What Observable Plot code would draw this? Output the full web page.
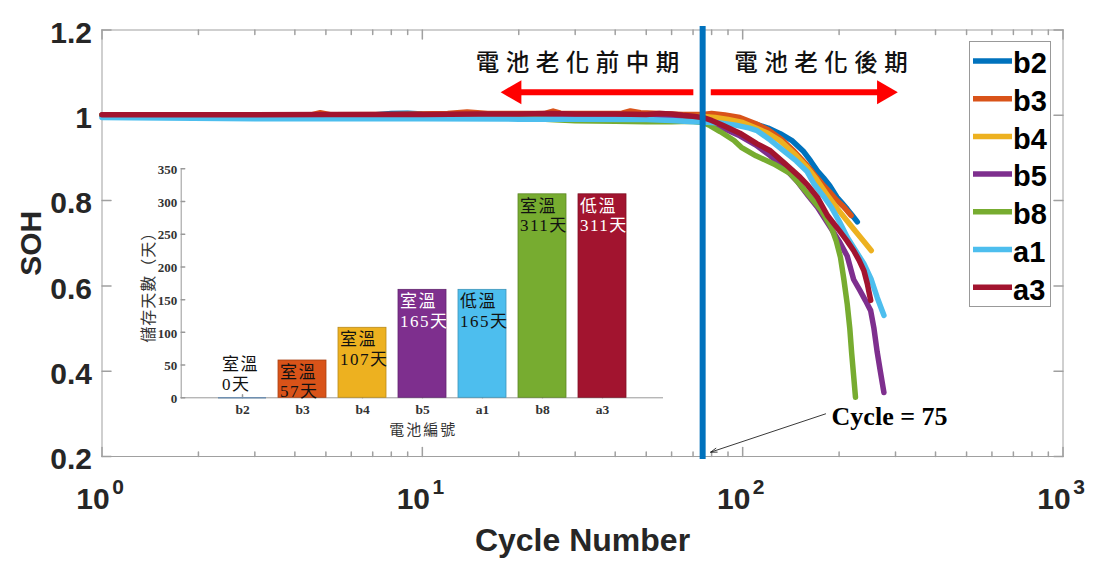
<!DOCTYPE html>
<html><head><meta charset="utf-8">
<script src="https://cdn.jsdelivr.net/npm/d3@7"></script>
<script src="https://cdn.jsdelivr.net/npm/@observablehq/plot@0.6"></script>
<style>
body{margin:0;background:#fff;width:1096px;height:563px;overflow:hidden;position:relative;font-family:"Liberation Sans",Arial,sans-serif}
#main,#inset{position:absolute;left:0;top:0}
#legend{position:absolute;left:969px;top:41px;width:82px;height:266px;border:1px solid #999;background:#fff;box-sizing:border-box}
</style></head><body>
<div id="main"></div><div id="inset"></div><div id="legend"></div>
<script>
// ---------- data ----------
const seriesNames = ["b2","b3","b4","b5","b8","a1","a3"];
const seriesColors = ["#0072BD","#D95319","#EDB120","#7E2F8E","#77AC30","#4DBEEE","#A2142F"];

const cyclesB2 = [1,3,5,7,8,9,10,12,15,20,30,40,50,60,70,75,82,90,100,111,120,131,143,155,163,171,179,187,197,205,212,220,228];
const sohB2    = [1.000,1.000,1.000,1.001,1.004,1.005,1.003,1.001,1.001,1.001,1.000,1.000,0.999,0.998,0.997,0.996,0.994,0.991,0.986,0.978,0.970,0.957,0.940,0.915,0.893,0.870,0.853,0.835,0.808,0.793,0.780,0.765,0.750];

const cyclesB3 = [1,3,4.5,4.8,5.2,8,12,13.8,16,20,24,25.6,27,35,42,44.6,48,55,65,75,80,88,98,110,120,132,145,158,170,179,188,197,207,218];
const sohB3    = [1.000,1.000,1.001,1.006,1.001,1.002,1.004,1.008,1.004,1.004,1.004,1.010,1.005,1.004,1.005,1.010,1.006,1.004,1.002,1.002,1.004,1.001,0.995,0.980,0.966,0.944,0.915,0.885,0.855,0.835,0.818,0.800,0.785,0.765];

const cyclesB4 = [1,5,10,20,30,50,60,70,75,82,90,100,110,120,131,145,159,170,184,198,212,225,238,252];
const sohB4    = [1.000,1.000,1.000,0.999,0.998,0.996,0.996,0.997,0.997,0.995,0.990,0.983,0.970,0.958,0.940,0.910,0.878,0.850,0.812,0.780,0.752,0.728,0.706,0.683];

const cyclesB5 = [1,5,10,20,30,50,60,70,75,80,88,98,110,122,135,148,160,171,185,200,212,222,232,242,251,257,263,269,276];
const sohB5    = [1.000,0.998,0.997,0.995,0.994,0.993,0.993,0.992,0.990,0.983,0.968,0.952,0.930,0.905,0.877,0.845,0.812,0.785,0.745,0.705,0.670,0.615,0.590,0.565,0.542,0.500,0.445,0.400,0.350];

const cyclesB8 = [1,5,10,20,25,30,40,50,60,69,75,79,85,94,99,110,125,141,150,160,175,189,196,202,207,212,216,219,222,225];
const sohB8    = [1.000,0.998,0.997,0.994,0.990,0.987,0.986,0.985,0.985,0.986,0.983,0.976,0.962,0.941,0.925,0.905,0.886,0.863,0.840,0.815,0.780,0.738,0.705,0.667,0.615,0.558,0.500,0.441,0.390,0.339];

const cyclesA1 = [1,3,10,20,30,50,60,70,75,85,95,105,111,122,134,147,159,167,178,189,200,212,225,239,252,263,270,276];
const sohA1    = [0.995,0.992,0.992,0.991,0.991,0.990,0.988,0.985,0.984,0.982,0.977,0.970,0.964,0.942,0.917,0.893,0.868,0.839,0.812,0.785,0.752,0.714,0.683,0.652,0.615,0.573,0.550,0.531];

const cyclesA3 = [1,3,5,10,15,20,25,30,40,50,55,60,65,70,75,80,87,98,111,122,135,151,160,171,184,202,212,222,231,239,245,251];
const sohA3    = [1.001,1.001,1.002,1.002,1.003,1.003,1.004,1.003,1.003,1.002,1.004,1.003,1.000,0.998,0.995,0.988,0.976,0.958,0.933,0.917,0.888,0.855,0.835,0.808,0.765,0.726,0.705,0.683,0.660,0.636,0.605,0.566];

const seriesCycles = [cyclesB2,cyclesB3,cyclesB4,cyclesB5,cyclesB8,cyclesA1,cyclesA3];
const seriesSoh    = [sohB2,sohB3,sohB4,sohB5,sohB8,sohA1,sohA3];

const xMajorTicks = [1,10,100,1000];
const xExponents  = [0,1,2,3];
const yTicks = [0.2,0.4,0.6,0.8,1,1.2];

const markCycle = 75;
const phaseLabels = [
  {label:"電池老化前中期", cycle:31.2, soh:1.121},
  {label:"電池老化後期",   cycle:179.9, soh:1.121}
];
const redArrows = [
  {dir:"left",  from:70.4, shaftEnd:19.54, tip:17.55, y:1.054},
  {dir:"right", from:79.8, shaftEnd:273.4, tip:305.2, y:1.054}
];
const cycleNote = [{text:"Cycle = 75", cycle:189.5, soh:0.275}];
const cycleArrow = [{x1:181.5, y1:0.300, x2:79.4, y2:0.2101}];

// inset bar chart data
const insetCats  = ["b2","b3","b4","b5","a1","b8","a3"];
const insetDays  = [0,57,107,165,165,311,311];
const insetTemp  = ["室溫","室溫","室溫","室溫","低溫","室溫","低溫"];
const insetColors = ["#0072BD","#D95319","#EDB120","#7E2F8E","#4DBEEE","#77AC30","#A2142F"];
const insetTextColors = ["#111","#111","#111","#ffffff","#111","#111","#ffffff"];
const insetYTicks = [0,50,100,150,200,250,300,350];
const insetXTitle = "電池編號";
const insetYTitle = "儲存天數（天）";

// ---------- build ----------
const rows = seriesNames.flatMap((n,i) => seriesCycles[i].map((c,j) => ({battery:n, cycle:c, soh:seriesSoh[i][j]})));
const minorX = [1,10,100].flatMap(d => [2,3,4,5,6,7,8,9].map(k => k*d));
const tickShape = {draw(ctx, l){ ctx.moveTo(0,0); ctx.lineTo(0,-l); }};
const ax = "#a0a0a0";
const lab = "#262626";

const main = Plot.plot({
  width:1096, height:563,
  marginLeft:101.5, marginRight:33.5, marginTop:29.5, marginBottom:107,
  x:{type:"log", domain:[1,1000], axis:null},
  y:{domain:[0.2,1.2], axis:null},
  color:{domain:seriesNames, range:seriesColors},
  style:{fontFamily:"'Liberation Sans', Arial, sans-serif", background:"transparent", overflow:"visible"},
  marks:[
    Plot.frame({stroke:ax}),
    Plot.vector(xMajorTicks, {x:d=>d, frameAnchor:"bottom", length:9, anchor:"start", shape:tickShape, stroke:ax}),
    Plot.vector(xMajorTicks, {x:d=>d, frameAnchor:"top", rotate:180, length:9, anchor:"start", shape:tickShape, stroke:ax}),
    Plot.vector(minorX, {x:d=>d, frameAnchor:"bottom", length:4.5, anchor:"start", shape:tickShape, stroke:ax}),
    Plot.vector(minorX, {x:d=>d, frameAnchor:"top", rotate:180, length:4.5, anchor:"start", shape:tickShape, stroke:ax}),
    Plot.vector(yTicks, {y:d=>d, frameAnchor:"left", rotate:90, length:9, anchor:"start", shape:tickShape, stroke:ax}),
    Plot.vector(yTicks, {y:d=>d, frameAnchor:"right", rotate:-90, length:9, anchor:"start", shape:tickShape, stroke:ax}),
    Plot.line(rows, {x:"cycle", y:"soh", z:"battery", stroke:"battery", strokeWidth:5.5, strokeLinejoin:"round"}),
    Plot.ruleX([markCycle], {stroke:"#0072BD", strokeWidth:6, insetTop:-3.5, insetBottom:-3}),
    Plot.ruleY(redArrows, {y:"y", x1:"from", x2:"shaftEnd", stroke:"#ff0000", strokeWidth:6}),
    Plot.dot(redArrows.filter(d=>d.dir==="left"), {x:"tip", y:"y", symbol:"triangle", r:8.9, fill:"#ff0000", stroke:"none", rotate:-90, dx:13.9}),
    Plot.dot(redArrows.filter(d=>d.dir==="right"), {x:"tip", y:"y", symbol:"triangle", r:8.9, fill:"#ff0000", stroke:"none", rotate:90, dx:-13.9}),
    Plot.text(phaseLabels, {x:"cycle", y:"soh", text:"label", fontSize:23.5, fontWeight:500, fontFamily:"'Noto Sans CJK TC', sans-serif", fill:"#111"}),
    Plot.arrow(cycleArrow, {x1:"x1", y1:"y1", x2:"x2", y2:"y2", stroke:"#222", strokeWidth:0.9, headLength:11, headAngle:36}),
    Plot.text(cycleNote, {x:"cycle", y:"soh", text:"text", textAnchor:"start", lineAnchor:"bottom", fontSize:26, fontWeight:"bold", fontFamily:"'Liberation Serif', 'Times New Roman', serif", fill:"#000"}),
    // axis labels
    Plot.text(yTicks, {y:d=>d, frameAnchor:"left", dx:-10, dy:3, textAnchor:"end", lineAnchor:"middle", text:d=>String(d), fontSize:30, fontWeight:"bold", fill:lab}),
    Plot.text(xMajorTicks, {x:d=>d, frameAnchor:"bottom", text:()=>"10", textAnchor:"middle", lineAnchor:"bottom", dx:-9, dy:52, fontSize:30, fontWeight:"bold", fill:lab}),
    Plot.text(xExponents, {x:d=>10**d, frameAnchor:"bottom", text:d=>String(d), textAnchor:"middle", lineAnchor:"bottom", dx:16, dy:37.5, fontSize:21, fontWeight:"bold", fill:lab}),
    Plot.text(["Cycle Number"], {frameAnchor:"bottom", text:d=>d, textAnchor:"middle", lineAnchor:"bottom", dy:94, fontSize:32, fontWeight:"bold", fill:lab}),
    Plot.text(["SOH"], {frameAnchor:"left", text:d=>d, rotate:-90, textAnchor:"middle", lineAnchor:"middle", dx:-71, fontSize:30, fontWeight:"bold", fill:lab})
  ]
});
main.querySelectorAll("text").forEach(t => { if (/電池老化/.test(t.textContent)) t.style.letterSpacing = "6.5px"; });
document.getElementById("main").appendChild(main);

// inset
const insetData = insetCats.map((c,i) => ({cat:c, days:insetDays[i], temp:insetTemp[i], color:insetColors[i],
  edge:d3.color(insetColors[i]).darker(0.7).formatHex(), textColor:insetTextColors[i]}));
const cjk = "'Liberation Serif', 'Noto Sans CJK TC', serif";
const inset = Plot.plot({
  width:1096, height:563,
  marginLeft:180.7, marginRight:433, marginTop:168.3, marginBottom:165.7,
  x:{type:"band", domain:insetCats, paddingInner:0.2, paddingOuter:0.6, axis:null},
  y:{domain:[0,350], axis:null},
  color:{type:"identity"},
  style:{fontFamily:"'Liberation Serif', serif", background:"transparent", overflow:"visible"},
  marks:[
    Plot.vector(insetCats, {x:d=>d, frameAnchor:"bottom", length:3, anchor:"start", shape:tickShape, stroke:"#999"}),
    Plot.ruleY([0], {stroke:"#999"}),
    Plot.frame({anchor:"left", stroke:"#999"}),
    Plot.barY(insetData, {x:"cat", y:"days", fill:"color", stroke:"edge", strokeWidth:0.8}),
    Plot.tickY(insetData.filter(d=>d.days===0), {x:"cat", y:"days", stroke:"#6f8fb0", strokeWidth:1.5}),
    Plot.vector(insetYTicks, {y:d=>d, frameAnchor:"left", rotate:90, length:3.5, anchor:"start", shape:tickShape, stroke:"#999"}),
    Plot.text(insetYTicks, {y:d=>d, frameAnchor:"left", dx:-4, dy:1, textAnchor:"end", lineAnchor:"middle", text:d=>String(d), fontSize:13, fontWeight:"bold", fill:"#333"}),
    Plot.text(insetCats, {x:d=>d, frameAnchor:"bottom", text:d=>d, textAnchor:"middle", lineAnchor:"bottom", dy:16.5, fontSize:13.5, fontWeight:"bold", fill:"#333"}),
    Plot.text([insetXTitle], {frameAnchor:"bottom", text:d=>d, textAnchor:"middle", lineAnchor:"middle", dx:1, dy:32.5, fontSize:15, fontFamily:"'Noto Sans CJK TC', sans-serif", fill:"#333"}),
    Plot.text([insetYTitle], {frameAnchor:"left", text:d=>d, rotate:-90, textAnchor:"middle", lineAnchor:"middle", dx:-32, fontSize:16, fontFamily:"'Noto Sans CJK TC', sans-serif", fill:"#333"}),
    Plot.text(insetData.filter(d=>d.days>0), {x:"cat", y:"days", text:d=>d.temp+"\n"+d.days+"天", textAnchor:"start", lineAnchor:"top", lineHeight:1.15, dx:-22.5, dy:3.5, fontSize:17, fontFamily:cjk, fill:"textColor"}),
    Plot.text(insetData.filter(d=>d.days===0), {x:"cat", y:"days", text:d=>d.temp+"\n"+d.days+"天", textAnchor:"start", lineAnchor:"bottom", lineHeight:1.15, dx:-20.5, dy:-8, fontSize:17, fontFamily:cjk, fill:"textColor"})
  ]
});
inset.querySelectorAll("text").forEach(t => {
  const s = t.textContent;
  if (/[室低]溫/.test(s)) t.style.letterSpacing = "1.5px";
  else if (s === insetXTitle) t.style.letterSpacing = "2px";
  else if (s === insetYTitle) t.style.letterSpacing = "1px";
});
document.getElementById("inset").appendChild(inset);

// legend
const lg = d3.select("#legend").append("svg").attr("width",80).attr("height",264);
seriesNames.forEach((n,i) => {
  const cy = 19 + i*37.7;
  lg.append("line").attr("x1",3).attr("x2",42).attr("y1",cy).attr("y2",cy)
    .attr("stroke",seriesColors[i]).attr("stroke-width",5.5);
  lg.append("text").attr("x",43).attr("y",cy+12.3).text(n)
    .attr("font-family","'Liberation Sans', Arial, sans-serif").attr("font-weight","bold")
    .attr("font-size",29).attr("fill","#000");
});
</script></body></html>
